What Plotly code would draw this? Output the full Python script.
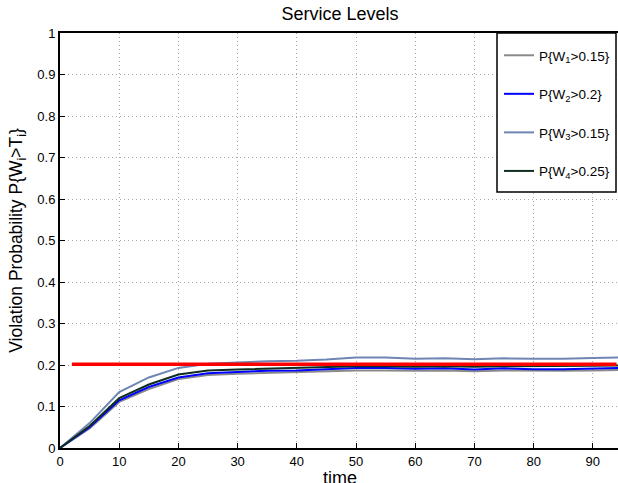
import plotly.graph_objects as go

t = [0, 5, 10, 15, 20, 25, 30, 35, 40, 45, 50, 55, 60, 65, 70, 75, 80, 85, 90, 95]
w1 = [0, 0.047, 0.111, 0.142, 0.166, 0.176, 0.179, 0.181, 0.182, 0.184, 0.187, 0.187, 0.186, 0.187, 0.185, 0.187, 0.186, 0.186, 0.187, 0.188]
w2 = [0, 0.050, 0.115, 0.147, 0.170, 0.180, 0.183, 0.186, 0.187, 0.190, 0.193, 0.193, 0.191, 0.192, 0.189, 0.192, 0.190, 0.190, 0.192, 0.193]
w3 = [0, 0.060, 0.135, 0.170, 0.193, 0.203, 0.206, 0.209, 0.210, 0.213, 0.218, 0.218, 0.215, 0.216, 0.214, 0.216, 0.215, 0.215, 0.217, 0.218]
w4 = [0, 0.053, 0.120, 0.153, 0.177, 0.187, 0.189, 0.191, 0.192, 0.195, 0.197, 0.197, 0.196, 0.197, 0.196, 0.197, 0.197, 0.197, 0.198, 0.199]
target_x = [2, 94]
target_y = [0.202, 0.202]

names = ["P{W<sub>1</sub>>0.15}", "P{W<sub>2</sub>>0.2}", "P{W<sub>3</sub>>0.15}", "P{W<sub>4</sub>>0.25}"]
colors = ["#8a8a8a", "#0000ff", "#6f86b4", "#0f2e1e"]
series = [w1, w2, w3, w4]

L, R_EDGE, TOP, BOT = 60, 618, 33, 448
PW, PH = R_EDGE - L, BOT - TOP

fig = go.Figure()
for i, (ys, nm, c) in enumerate(zip(series, names, colors)):
    fig.add_trace(go.Scatter(x=t, y=ys, mode="lines", name=nm, legendgroup=str(i),
                             line=dict(color=c, width=2)))
fig.add_trace(go.Scatter(x=target_x, y=target_y, mode="lines", showlegend=False,
                         line=dict(color="#ff0000", width=3.5)))

# legend frame (drawn as a shape so it can be taller than plotly's own box)
fig.add_shape(type="rect", xref="paper", yref="paper",
              x0=(497 - L) / PW, x1=(616 - L) / PW, y0=(BOT - 192) / PH, y1=1.0,
              fillcolor="white", line=dict(color="black", width=1.5), layer="above")

# x-axis title placed as annotation
fig.add_annotation(text="time", xref="paper", yref="paper", x=(340 - L) / PW, y=-(478 - BOT) / PH,
                   xanchor="center", yanchor="middle", showarrow=False, font=dict(size=18))

fig.update_layout(
    width=618, height=483,
    margin=dict(l=L, r=0, t=TOP, b=483 - BOT, autoexpand=False),
    paper_bgcolor="white", plot_bgcolor="white",
    font=dict(family="Liberation Sans, Arial", size=13, color="black"),
    title=dict(text="Service Levels", x=340 / 618, xanchor="center", y=1 - 14 / 483, yanchor="middle",
               font=dict(size=18), automargin=False),
    showlegend=True,
    legend=dict(x=(499 - L) / PW, xanchor="left", y=(BOT - 40) / PH, yanchor="top",
                bgcolor="rgba(0,0,0,0)", borderwidth=0, tracegroupgap=18,
                font=dict(size=13.5), itemwidth=30),
    xaxis=dict(range=[0, 94.25], tickvals=[0, 10, 20, 30, 40, 50, 60, 70, 80, 90],
               showline=True, linecolor="black", linewidth=2, mirror=True,
               ticks="inside", ticklen=5, tickcolor="black", automargin=False,
               showgrid=True, gridcolor="#a8a8a8", griddash="1px,3px", gridwidth=1,
               zeroline=False),
    yaxis=dict(range=[0, 1], tickvals=[0, 0.1, 0.2, 0.3, 0.4, 0.5, 0.6, 0.7, 0.8, 0.9, 1],
               ticktext=["0", "0.1", "0.2", "0.3", "0.4", "0.5", "0.6", "0.7", "0.8", "0.9", "1"],
               showline=True, linecolor="black", linewidth=2, mirror=True,
               ticks="inside", ticklen=5, tickcolor="black", automargin=False,
               showgrid=True, gridcolor="#a8a8a8", griddash="1px,3px", gridwidth=1,
               zeroline=False,
               title=dict(text="Violation Probability P{W<sub>i</sub>>T<sub>i</sub>}", standoff=10,
                          font=dict(size=17.5))),
)
fig.write_html("out.html", config={"displayModeBar": False},
               post_script="document.body.style.margin='0';document.body.style.overflow='hidden';")
